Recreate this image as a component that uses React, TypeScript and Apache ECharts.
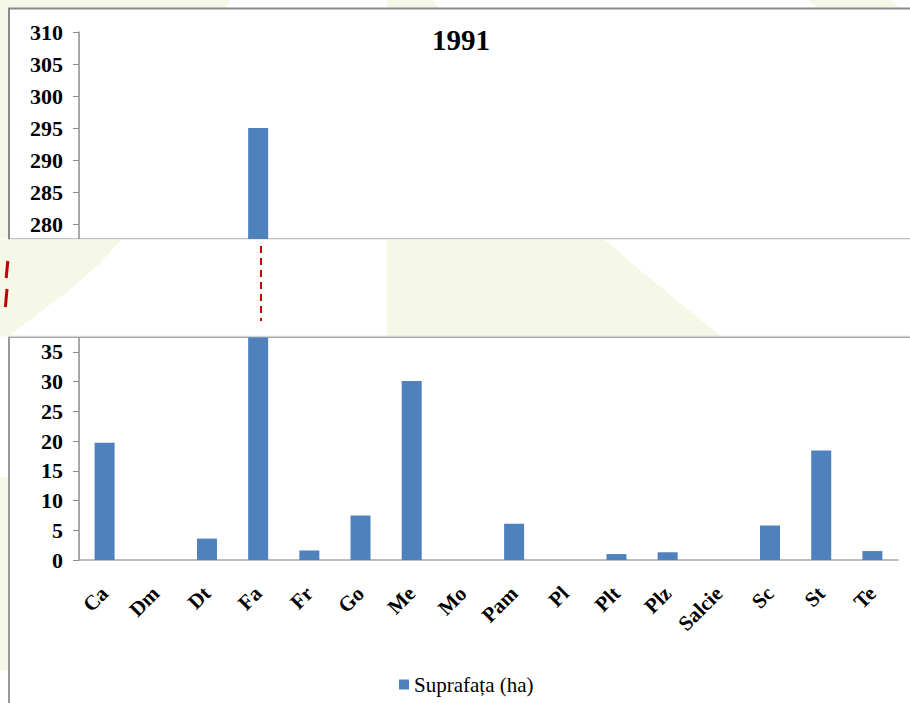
import React, { useEffect, useRef } from "react";
import * as echarts from "echarts";

const categories = ["Ca", "Dm", "Dt", "Fa", "Fr", "Go", "Me", "Mo", "Pam", "Pl", "Plt", "Plz", "Salcie", "Sc", "St", "Te"];
const values = [19.7, 0, 3.6, 295, 1.6, 7.5, 30.1, 0, 6.1, 0, 1.0, 1.3, 0, 5.8, 18.4, 1.5];
const seriesName = "Suprafața (ha)";
const titleText = "1991";
const topAxis = { min: 275, max: 310, interval: 5 };
const bottomAxis = { min: 0, max: 40, interval: 5 };

const PALE = "#f5f7e7";
const SERIF = "'Liberation Serif', 'Times New Roman', serif";

function yLabel() {
  return { fontFamily: SERIF, fontWeight: "bold", fontSize: 22, color: "#000", margin: 16 };
}

export default function App() {
  const ref = useRef<HTMLDivElement>(null);
  useEffect(() => {
    if (!ref.current) return;
    const chart = echarts.init(ref.current, null, { renderer: "svg" });
    const barColor = "#4f81bd";
    const option: any = {
      animation: false,
      backgroundColor: "#ffffff",
      textStyle: { fontFamily: SERIF },
      title: {
        text: titleText,
        left: 427,
        top: 20,
        textStyle: { fontFamily: SERIF, fontWeight: "bold", fontSize: 29, color: "#000" },
      },
      legend: {
        data: [seriesName],
        left: 394,
        top: 669,
        itemWidth: 10,
        itemHeight: 10,
        icon: "rect",
        textStyle: { fontFamily: SERIF, fontSize: 21, color: "#000" },
      },
      grid: [
        { left: 79, right: 12, top: 32, height: 224 },
        { left: 79, right: 12, top: 322, height: 238 },
      ],
      xAxis: [
        { type: "category", gridIndex: 0, data: categories, show: false },
        {
          type: "category",
          gridIndex: 1,
          data: categories,
          axisLine: { lineStyle: { color: "#a6a6a6", width: 1.5 } },
          axisTick: { length: 7, lineStyle: { color: "#a6a6a6", width: 1.5 } },
          axisLabel: {
            rotate: 45,
            interval: 0,
            margin: 30,
            fontFamily: SERIF,
            fontWeight: "bold",
            fontSize: 21,
            color: "#000",
          },
        },
      ],
      yAxis: [
        {
          type: "value",
          gridIndex: 0,
          min: topAxis.min,
          max: topAxis.max,
          interval: topAxis.interval,
          axisLine: { show: true, lineStyle: { color: "#8c8c8c", width: 1.5 } },
          axisTick: { show: true, length: 6, lineStyle: { color: "#8c8c8c" } },
          splitLine: { show: false },
          axisLabel: yLabel(),
        },
        {
          type: "value",
          gridIndex: 1,
          min: bottomAxis.min,
          max: bottomAxis.max,
          interval: bottomAxis.interval,
          axisLine: { show: true, lineStyle: { color: "#8c8c8c", width: 1.5 } },
          axisTick: { show: true, length: 6, lineStyle: { color: "#8c8c8c" } },
          splitLine: { show: false },
          axisLabel: yLabel(),
        },
      ],
      series: [
        {
          name: seriesName,
          type: "bar",
          xAxisIndex: 0,
          yAxisIndex: 0,
          barWidth: 20,
          data: values.map((v) => (v > topAxis.min ? v : "-")),
          itemStyle: { color: barColor },
        },
        {
          name: seriesName,
          type: "bar",
          xAxisIndex: 1,
          yAxisIndex: 1,
          barWidth: 20,
          data: values,
          itemStyle: { color: barColor },
        },
      ],
      graphic: [
        { type: "polygon", z: -30, silent: true, shape: { points: [[0, 0], [230, 0], [226, 9], [0, 9]] }, style: { fill: PALE } },
        { type: "polygon", z: -30, silent: true, shape: { points: [[387, 0], [433, 0], [440, 9], [387, 9]] }, style: { fill: PALE } },
        { type: "polygon", z: -30, silent: true, shape: { points: [[808, 0], [890, 0], [902, 9], [820, 9]] }, style: { fill: PALE } },
        { type: "rect", z: -30, silent: true, shape: { x: 0, y: 0, width: 9, height: 240 }, style: { fill: PALE } },
        { type: "rect", z: -30, silent: true, shape: { x: 0, y: 477, width: 9, height: 193 }, style: { fill: PALE } },
        { type: "rect", z: -20, silent: true, shape: { x: 9, y: 8.5, width: 1000, height: 231 }, style: { fill: "#fff", stroke: "#8a8a8a", lineWidth: 2 } },
        { type: "rect", z: -20, silent: true, shape: { x: 9, y: 337, width: 1000, height: 400 }, style: { fill: "#fff", stroke: "#9a9a9a", lineWidth: 2 } },
        { type: "rect", z: 50, silent: true, shape: { x: 0, y: 239.5, width: 910, height: 97 }, style: { fill: "#ffffff" } },
        { type: "polygon", z: 51, silent: true, shape: { points: [[0, 240], [121, 240], [100, 263], [72, 288], [40, 312], [8, 336.5], [0, 336.5]] }, style: { fill: PALE } },
        { type: "polygon", z: 51, silent: true, shape: { points: [[387, 240], [605, 240], [640, 270], [680, 303], [721, 336.5], [387, 336.5]] }, style: { fill: PALE } },
        { type: "line", z: 52, silent: true, shape: { x1: 9, y1: 239.5, x2: 910, y2: 239.5 }, style: { stroke: "#ececec", lineWidth: 1 } },
        { type: "line", z: 52, silent: true, shape: { x1: 9, y1: 336.5, x2: 910, y2: 336.5 }, style: { stroke: "#d4d4d4", lineWidth: 1.5 } },
        { type: "line", z: 53, silent: true, shape: { x1: 261, y1: 246, x2: 261, y2: 321 }, style: { stroke: "#c00000", lineWidth: 2, lineDash: [7, 5] } },
        { type: "line", z: 53, silent: true, shape: { x1: 7.8, y1: 261, x2: 6.2, y2: 278 }, style: { stroke: "#c00000", lineWidth: 3 } },
        { type: "line", z: 53, silent: true, shape: { x1: 7, y1: 289, x2: 5.4, y2: 307 }, style: { stroke: "#c00000", lineWidth: 3 } },
      ],
    };
    chart.setOption(option);
    return () => chart.dispose();
  }, []);
  return (
    <div
      ref={ref}
      style={{ position: "fixed", left: 0, top: 0, width: 910, height: 703 }}
    />
  );
}
